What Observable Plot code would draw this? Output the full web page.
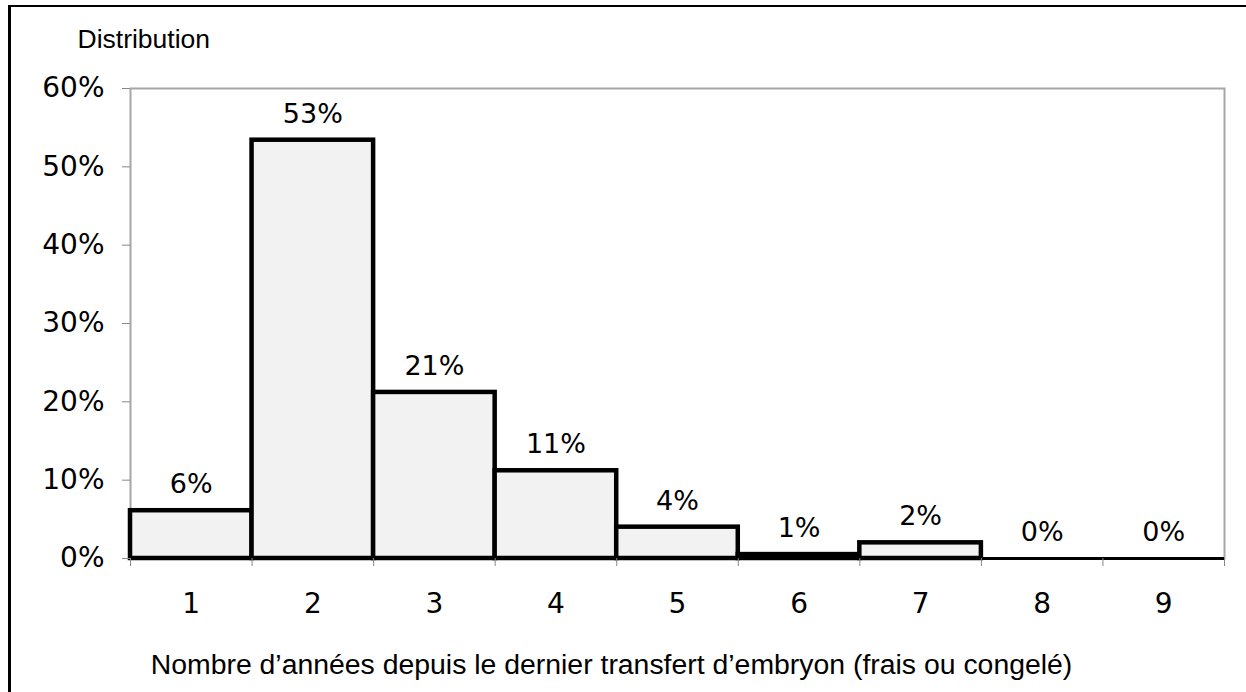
<!DOCTYPE html>
<html>
<head>
<meta charset="utf-8">
<script src="https://cdn.jsdelivr.net/npm/d3@7"></script>
<script src="https://cdn.jsdelivr.net/npm/@observablehq/plot@0.6"></script>
<style>
  html, body { margin: 0; padding: 0; background: #fff; overflow: hidden; }
  #wrap { position: relative; width: 1246px; height: 692px; overflow: hidden; }
  #border { position: absolute; left: 8px; top: 5px; width: 3000px; height: 3000px;
            border-left: 3px solid #000; border-top: 2px solid #000; pointer-events: none; }
  #chart svg { display: block; }
</style>
</head>
<body>
<div id="wrap">
  <div id="chart"></div>
  <div id="border"></div>
</div>
<script>
// Data
const years = [1, 2, 3, 4, 5, 6, 7, 8, 9];
const shares = [0.061, 0.534, 0.212, 0.112, 0.040, 0.005, 0.020, 0.0, 0.0];
const yTicks = [0, 0.1, 0.2, 0.3, 0.4, 0.5, 0.6];
const yTitle = "Distribution";
const xTitle = "Nombre d\u2019ann\u00e9es depuis le dernier transfert d\u2019embryon (frais ou congel\u00e9)";

const data = years.map((y, i) => ({year: y, share: shares[i], label: Math.round(shares[i] * 100) + "%"}));
const bounds = years.map(y => y - 0.5).concat([years[years.length - 1] + 0.5]);

const chart = Plot.plot({
  width: 1246,
  height: 692,
  marginLeft: 130,
  marginRight: 22,
  marginTop: 88,
  marginBottom: 134,
  style: {fontFamily: "'DejaVu Sans', Verdana, sans-serif", fontSize: "27px", color: "#000", background: "#fff"},
  x: {domain: [0.5, 9.5]},
  y: {domain: [0, 0.6]},
  marks: [
    Plot.frame({stroke: "#a6a6a6", strokeWidth: 2}),
    Plot.rectY(data, {x1: d => d.year - 0.5, x2: d => d.year + 0.5, y1: 0, y2: "share",
      fill: "#f2f2f2", stroke: "#000", strokeWidth: 4.5, insetLeft: 0, insetRight: 0}),
    Plot.ruleY([0], {stroke: "#000", strokeWidth: 3}),
    Plot.text(data, {x: "year", y: "share", text: "label", dy: -26, lineAnchor: "middle",
      fontSize: 27, fill: "#000"}),
    Plot.axisY({ticks: yTicks, tickFormat: d3.format(".0%"), tickSize: 8, tickPadding: 18,
      stroke: "#888", fill: "#000", fontSize: 28, label: null}),
    Plot.axisX({ticks: bounds, tickFormat: () => "", tickSize: 8, stroke: "#888", label: null}),
    Plot.axisX({ticks: years, tickFormat: d => String(d), tickSize: 0, tickPadding: 35,
      fill: "#000", fontSize: 28, label: null}),
    Plot.text([yTitle], {frameAnchor: "top-left", dx: -53, dy: -49, textAnchor: "start",
      lineAnchor: "middle", fontFamily: "'Liberation Sans', Arial, sans-serif", fontSize: 26.5, fill: "#000"}),
    Plot.text([xTitle], {frameAnchor: "bottom", dx: -66, dy: 106, textAnchor: "middle",
      lineAnchor: "middle", fontFamily: "'Liberation Sans', Arial, sans-serif", fontSize: 28.4, fill: "#000"})
  ]
});
document.getElementById("chart").appendChild(chart);
</script>
</body>
</html>
